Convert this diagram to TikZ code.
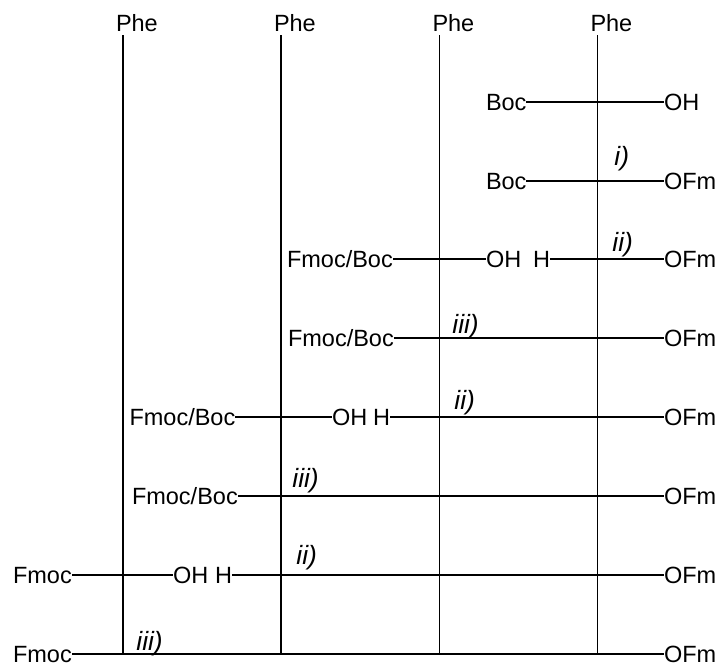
\documentclass[tikz,border=0pt]{standalone}
\usepackage{fontspec}
\setmainfont{Liberation Sans}
\begin{document}
\begin{tikzpicture}[x=0.5pt,y=-0.5pt,
  txt/.style={inner sep=0pt, outer sep=0pt, anchor=west, text height=8.41pt, text depth=0pt, font=\fontsize{11.75}{14}\selectfont},
  lab/.style={inner sep=0pt, anchor=base west, font=\fontsize{13.2}{15}\selectfont\itshape},
  bond/.style={line width=0.75pt}]
\useasboundingbox (0,0) rectangle (724,666);
% Phe columns
\node[txt] (p1) at (116,23.5) {Phe};
\node[txt] (p2) at (274,23.5) {Phe};
\node[txt] (p3) at (432.5,23.5) {Phe};
\node[txt] (p4) at (590.5,23.5) {Phe};
\coordinate (t1) at (123,35);   \coordinate (b1) at (123,654);
\coordinate (t2) at (281,35);   \coordinate (b2) at (281,654);
\coordinate (t3) at (439.5,35); \coordinate (b3) at (439.5,654);
\coordinate (t4) at (597.5,35); \coordinate (b4) at (597.5,654);
\draw[bond] (t1) -- (b1);
\draw[bond] (t2) -- (b2);
\draw[bond] (t3) -- (b3);
\draw[bond] (t4) -- (b4);
% row 1
\node[txt] (r1a) at (486,102) {Boc};
\node[txt] (r1b) at (664,102) {OH};
\draw[bond] (r1a.east) -- (r1b.west);
% row 2
\node[txt] (r2a) at (486,181) {Boc};
\node[txt] (r2b) at (664,181) {OFm};
\draw[bond] (r2a.east) -- (r2b.west);
\node[lab] (l2) at (614,165) {i)};
% row 3
\node[txt] (r3a) at (287,259) {Fmoc/Boc};
\node[txt] (r3b) at (486,259) {OH};
\node[txt] (r3c) at (533,259) {H};
\node[txt] (r3d) at (664,259) {OFm};
\draw[bond] (r3a.east) -- (r3b.west);
\draw[bond] (r3c.east) -- (r3d.west);
\node[lab] (l3) at (612,251) {ii)};
% row 4
\node[txt] (r4a) at (288,338) {Fmoc/Boc};
\node[txt] (r4b) at (664,338) {OFm};
\draw[bond] (r4a.east) -- (r4b.west);
\node[lab] (l4) at (452,333) {iii)};
% row 5
\node[txt] (r5a) at (129.5,417) {Fmoc/Boc};
\node[txt] (r5b) at (332,417) {OH};
\node[txt] (r5c) at (373,417) {H};
\node[txt] (r5d) at (664,417) {OFm};
\draw[bond] (r5a.east) -- (r5b.west);
\draw[bond] (r5c.east) -- (r5d.west);
\node[lab] (l5) at (454,409) {ii)};
% row 6
\node[txt] (r6a) at (132,496) {Fmoc/Boc};
\node[txt] (r6b) at (664,496) {OFm};
\draw[bond] (r6a.east) -- (r6b.west);
\node[lab] (l6) at (292,487) {iii)};
% row 7
\node[txt] (r7a) at (13,575) {Fmoc};
\node[txt] (r7b) at (173,575) {OH};
\node[txt] (r7c) at (215,575) {H};
\node[txt] (r7d) at (664,575) {OFm};
\draw[bond] (r7a.east) -- (r7b.west);
\draw[bond] (r7c.east) -- (r7d.west);
\node[lab] (l7) at (296,564) {ii)};
% row 8
\node[txt] (r8a) at (13,654) {Fmoc};
\node[txt] (r8b) at (664,654) {OFm};
\draw[bond] (r8a.east) -- (r8b.west);
\node[lab] (l8) at (136,650) {iii)};
\end{tikzpicture}
\end{document}
